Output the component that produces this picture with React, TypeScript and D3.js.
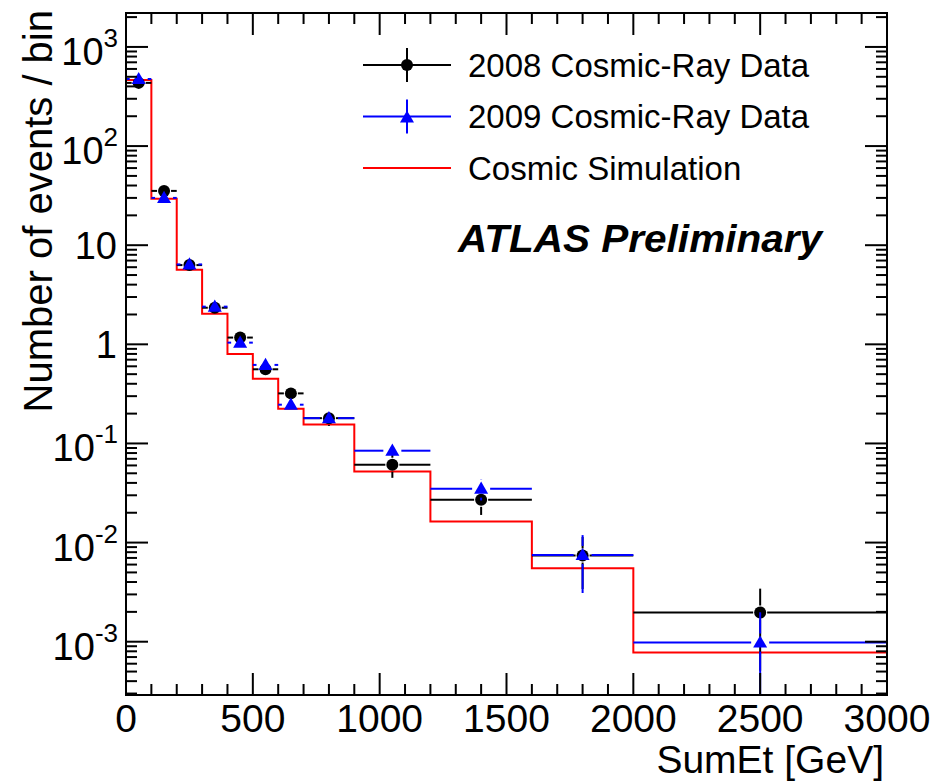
import * as d3 from "d3";

// SumEt distribution: bin edges (GeV) and contents per bin
const binEdges = [0, 100, 200, 300, 400, 500, 600, 700, 900, 1200, 1600, 2000, 3000];
const simValues = [465, 29.4, 5.65, 2.03, 0.8, 0.45, 0.224, 0.155, 0.052, 0.0163, 0.0055, 0.00078];
const data2008 = [434, 35.3, 6.3, 2.34, 1.17, 0.56, 0.32, 0.18, 0.061, 0.027, 0.0074, 0.00197];
const err2008 = [20, 2.5, 0.8, 0.3, 0.15, 0.07, 0.04, 0.03, 0.016, 0.008, 0.004, 0.00146];
const data2009 = [475, 30.0, 6.4, 2.4, 1.04, 0.62, 0.246, 0.18, 0.0845, 0.035, 0.0075, 0.00098];
const err2009 = [15, 2.0, 0.8, 0.3, 0.1, 0.06, 0.042, 0.025, 0.012, 0.0084, 0.0044, 0.001];

const xTickValues = [0, 500, 1000, 1500, 2000, 2500, 3000];
const yLabelExps = [3, 2, 1, 0, -1, -2, -3];

const legendItems = [
  { label: "2008 Cosmic-Ray Data", color: "#000000", marker: "circle" },
  { label: "2009 Cosmic-Ray Data", color: "#0000ff", marker: "triangle" },
  { label: "Cosmic Simulation", color: "#ff0000", marker: "none" },
];

const W = 949;
const H = 784;
const margin = { top: 13, right: 62, bottom: 89, left: 126 };
const font = "'Liberation Sans', Arial, Helvetica, sans-serif";

const x = d3.scaleLinear().domain([0, 3000]).range([margin.left, W - margin.right]);
const y = d3.scaleLog().domain([2.9e-4, 2200]).range([H - margin.bottom, margin.top]);

const x0 = x.range()[0];
const x1 = x.range()[1];
const yBot = y.range()[0];
const yTop = y.range()[1];

const MAJOR = 22;
const MINOR = 11;

function ErrorPoints({ values, errors, color, marker, gap }) {
  const tri = d3.symbol().type(d3.symbolTriangle).size(85)();
  return (
    <g>
      {values.map((v, i) => {
        const cx = x((binEdges[i] + binEdges[i + 1]) / 2);
        const cy = y(v);
        const xl = x(binEdges[i]);
        const xr = x(binEdges[i + 1]);
        const up = y(v + errors[i]);
        const lowVal = v - errors[i];
        const down = lowVal > y.domain()[0] ? y(lowVal) : yBot;
        return (
          <g key={i} stroke={color} strokeWidth={2}>
            {cx - gap > xl && <line x1={xl} x2={cx - gap} y1={cy} y2={cy} />}
            {xr > cx + gap && <line x1={cx + gap} x2={xr} y1={cy} y2={cy} />}
            {cy - gap > up && <line x1={cx} x2={cx} y1={up} y2={cy - gap} />}
            {down > cy + gap && <line x1={cx} x2={cx} y1={cy + gap} y2={down} />}
            {marker === "circle" ? (
              <circle cx={cx} cy={cy} r={6} fill={color} stroke="none" />
            ) : (
              <path d={tri} transform={`translate(${cx},${cy + 1})`} fill={color} stroke="none" />
            )}
          </g>
        );
      })}
    </g>
  );
}

export default function App() {
  const stepPts = binEdges.map((e, i) => [e, simValues[Math.min(i, simValues.length - 1)]]);
  const step = d3
    .line()
    .x((d) => x(d[0]))
    .y((d) => y(d[1]))
    .curve(d3.curveStepAfter)(stepPts);

  const xMinor = d3.range(0, 3001, 100);
  const yTicks = y.ticks();
  const isMajorY = (t) => Math.abs(Math.log10(t) - Math.round(Math.log10(t))) < 1e-6;

  return (
    <svg
      width={W}
      height={H}
      style={{ position: "absolute", left: 0, top: 0, background: "#fff" }}
      fontFamily={font}
    >
      {/* simulation histogram */}
      <path d={step} fill="none" stroke="#ff0000" strokeWidth={2} />

      <ErrorPoints values={data2008} errors={err2008} color="#000000" marker="circle" gap={7} />
      <ErrorPoints values={data2009} errors={err2009} color="#0000ff" marker="triangle" gap={9} />

      {/* frame */}
      <rect x={x0} y={yTop} width={x1 - x0} height={yBot - yTop} fill="none" stroke="#000" strokeWidth={2} />

      {/* x ticks, bottom and top */}
      <g stroke="#000" strokeWidth={2}>
        {xMinor.map((t) => {
          const len = t % 500 === 0 ? MAJOR : MINOR;
          return (
            <g key={t}>
              <line x1={x(t)} x2={x(t)} y1={yBot} y2={yBot - len} />
              <line x1={x(t)} x2={x(t)} y1={yTop} y2={yTop + len} />
            </g>
          );
        })}
        {yTicks.map((t, i) => {
          const len = isMajorY(t) ? MAJOR : MINOR;
          return (
            <g key={i}>
              <line x1={x0} x2={x0 + len} y1={y(t)} y2={y(t)} />
              <line x1={x1} x2={x1 - len} y1={y(t)} y2={y(t)} />
            </g>
          );
        })}
      </g>

      {/* x tick labels */}
      <g fontSize={39} textAnchor="middle" fill="#000">
        {xTickValues.map((t) => (
          <text key={t} x={x(t)} y={yBot + 37}>
            {t}
          </text>
        ))}
      </g>

      {/* y tick labels */}
      <g fontSize={38} textAnchor="end" fill="#000">
        {yLabelExps.map((e) => {
          const ty = y(Math.pow(10, e));
          if (e === 0 || e === 1) {
            return (
              <text key={e} x={117} y={ty + 13.5}>
                {e === 0 ? "1" : "10"}
              </text>
            );
          }
          return (
            <text key={e} x={118} y={ty + 18}>
              10
              <tspan fontSize={26} dy={-18}>
                {e}
              </tspan>
            </text>
          );
        })}
      </g>

      {/* axis titles */}
      <text x={884} y={773} fontSize={39} textAnchor="end">
        SumEt [GeV]
      </text>
      <text transform="translate(52,10) rotate(-90)" fontSize={40} textAnchor="end">
        Number of events / bin
      </text>

      {/* legend */}
      {legendItems.map((d, i) => {
        const ly = 65 + i * 51.5;
        return (
          <g key={d.label}>
            <line x1={363} x2={451} y1={ly} y2={ly} stroke={d.color} strokeWidth={2} />
            {d.marker !== "none" && (
              <line x1={407} x2={407} y1={ly - 17} y2={ly + 17} stroke={d.color} strokeWidth={2} />
            )}
            {d.marker === "circle" && <circle cx={407} cy={ly} r={6} fill={d.color} />}
            {d.marker === "triangle" && (
              <path
                d={d3.symbol().type(d3.symbolTriangle).size(85)()}
                transform={`translate(407,${ly + 2})`}
                fill={d.color}
              />
            )}
            <text x={468} y={ly + 11.5} fontSize={33}>
              {d.label}
            </text>
          </g>
        );
      })}

      <text
        x={458}
        y={252}
        fontSize={38}
        fontWeight="bold"
        fontStyle="italic"
        textLength={364}
        lengthAdjust="spacingAndGlyphs"
      >
        ATLAS Preliminary
      </text>
    </svg>
  );
}
